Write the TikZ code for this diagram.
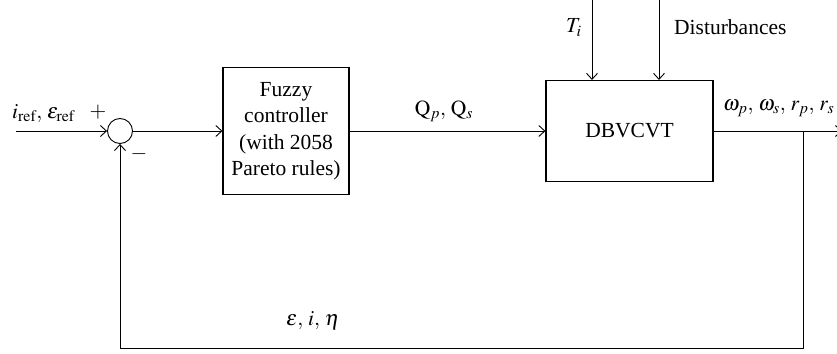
\documentclass[tikz,border=0pt]{standalone}
\usepackage{mathptmx}
\usepackage{fontspec}
\setmainfont{Liberation Serif}
\usetikzlibrary{arrows.meta}
\begin{document}
\begin{tikzpicture}[x=1pt,y=-1pt,
  every node/.style={font=\fontsize{21.5}{26.5}\selectfont, inner sep=0pt},
  blk/.style={draw, line width=1.1pt, align=center},
  ln/.style={line width=0.9pt},
  arr/.style={ln, -{Straight Barb[length=6pt,width=11pt,line width=0.9pt]}}]
\useasboundingbox (0,0) rectangle (837,353);
\clip (0,0) rectangle (837,353);

% blocks
\node[draw, circle, minimum size=25pt, line width=0.9pt] (sum) at (120,131) {};
\node[blk, minimum width=126pt, minimum height=127pt] (fc) at (286,131)
  {Fuzzy\\controller\\(with 2058\\Pareto rules)};
\node[blk, minimum width=167pt, minimum height=101pt] (plant) at (629.5,131) {DBVCVT};

% coordinates
\coordinate (in) at (16,131);
\coordinate (ti) at (592,0);
\coordinate (dist) at (659,0);
\coordinate (out) at (842,131);
\coordinate (br) at (803,131);
\coordinate (bl) at (803,348);
\coordinate (fb) at (120,348);

% connectors
\draw[arr] (in) -- (sum.west);
\draw[arr] (sum.east) -- (fc.west);
\draw[arr] (fc.east) -- (plant.west);
\draw[arr] (ti) -- (ti |- plant.north);
\draw[arr] (dist) -- (dist |- plant.north);
\draw[arr] (plant.east) -- (out);
\draw[ln] (br) -- (bl) -- (fb);
\draw[arr] (fb) -- (sum.south);

% labels
\node[anchor=base west] (lin) at (12,118) {$i_{\mathrm{ref}},\, \varepsilon_{\mathrm{ref}}$};
\node (plus) at (98,112) {$+$};
\node (minus) at (139,154) {$-$};
\node[anchor=base] (lq) at (444,115) {$\mathrm{Q}_p,\, \mathrm{Q}_s$};
\node[anchor=base west] (lti) at (566,33) {$T_i$};
\node[anchor=base west] (ldist) at (674,35) {Disturbances};
\node[anchor=base west] (lout) at (723,110) {$\omega_p,\, \omega_s,\, r_p,\, r_s$};
\node[anchor=base west] (lfb) at (286,325) {$\varepsilon,\, i,\, \eta$};
\end{tikzpicture}
\end{document}
